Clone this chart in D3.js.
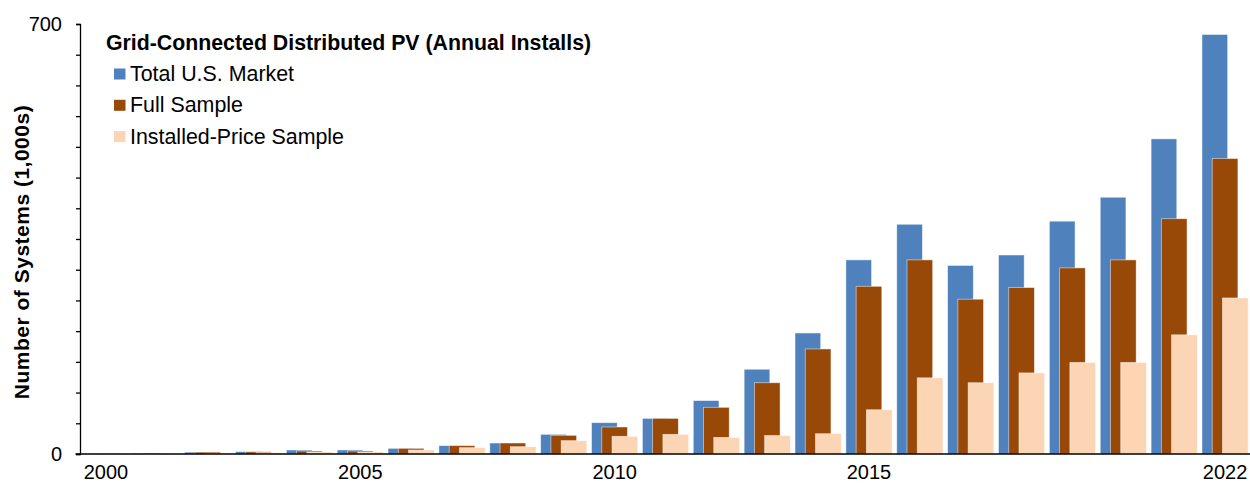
<!DOCTYPE html>
<html>
<head>
<meta charset="utf-8">
<script src="https://cdn.jsdelivr.net/npm/d3@7"></script>
<style>
  body { margin: 0; background: #fff; }
  text { font-family: "Liberation Sans", Arial, sans-serif; fill: #000; }
</style>
</head>
<body>
<svg id="chart" width="1250" height="489"></svg>
<script>
// data, thousands of systems installed per year
const years = d3.range(2000, 2023);
const totalMarket = [0.2, 0.5, 3, 3.8, 6.5, 6.6, 9.2, 13.6, 17.9, 32, 51, 58, 87, 138, 197, 316, 374, 307, 324, 379, 418, 513, 683];
const fullSample = [0.1, 0.4, 3, 3.5, 4.9, 4.9, 9.2, 13.6, 17.9, 30.4, 44, 58, 76, 116, 171, 273, 316, 252, 271, 303, 316, 383, 481];
const pricedSample = [0, 0.1, 0.5, 2.1, 3.3, 3.3, 6.5, 10.3, 11.9, 21.7, 28.8, 32, 27, 30, 33, 72, 124, 116, 132, 149, 149, 194, 254];
const xTickYears = [2000, 2005, 2010, 2015, 2022];
const seriesNames = ["Total U.S. Market", "Full Sample", "Installed-Price Sample"];
const seriesColors = ["#4f81bd", "#984807", "#fcd5b5"];

const svg = d3.select("#chart");
const plotLeft = 80.5, plotRight = 1250.5, plotTop = 24, plotBottom = 454;

let x = d3.scaleBand().domain(years).range([plotLeft, plotRight]);
let y = d3.scaleLinear().domain([0, 700]).range([plotBottom, plotTop]);

// overlapping bars inside each year's band
let bw = x.bandwidth();
let barW = bw * 0.505;
let offset = d3.scaleLinear().domain([0, 2]).range([bw * 0.046, bw * 0.046 + bw * 0.403]);

let series = [totalMarket, fullSample, pricedSample];
series.forEach((vals, s) => {
  svg.append("g")
    .selectAll("rect")
    .data(vals)
    .join("rect")
    .attr("x", (d, i) => x(years[i]) + offset(s))
    .attr("y", d => y(d))
    .attr("width", barW)
    .attr("height", d => plotBottom - y(d))
    .attr("fill", seriesColors[s])
    .attr("stroke", "#fff")
    .attr("stroke-opacity", 0.6)
    .attr("stroke-width", 0.8);
});

// y axis
let yAxis = d3.axisLeft(y)
  .tickValues(d3.range(0, 701, 50))
  .tickSize(4)
  .tickPadding(14)
  .tickFormat(d => (d === 0 || d === 700 ? d : ""));
let gy = svg.append("g").attr("transform", `translate(${plotLeft - 0.5},0)`).call(yAxis);
gy.select(".domain").attr("stroke", "#000").attr("stroke-width", 1.3);
gy.selectAll(".tick line").attr("stroke", "#000").attr("stroke-width", 1.3);
gy.selectAll("text").style("font-size", "20px");

// x axis
let xAxis = d3.axisBottom(x).tickValues(xTickYears).tickSize(0).tickPadding(11);
let gx = svg.append("g").attr("transform", `translate(0,${plotBottom})`).call(xAxis);
gx.select(".domain").remove();
gx.selectAll("text").style("font-size", "20px");
svg.append("line")
  .attr("x1", plotLeft - 5).attr("x2", 1250)
  .attr("y1", plotBottom).attr("y2", plotBottom)
  .attr("stroke", "#000").attr("stroke-width", 1.6);

// y title
svg.append("text")
  .attr("transform", "translate(29,252) rotate(-90)")
  .attr("text-anchor", "middle")
  .style("font-size", "21px")
  .style("font-weight", "bold")
  .style("letter-spacing", "0.5px")
  .text("Number of Systems (1,000s)");

// legend
let legend = svg.append("g");
legend.append("text")
  .attr("x", 106).attr("y", 50)
  .style("font-size", "21.3px")
  .style("font-weight", "bold")
  .text("Grid-Connected Distributed PV (Annual Installs)");
seriesNames.forEach((name, i) => {
  let cy = 74 + i * 31.3;
  legend.append("rect")
    .attr("x", 114).attr("y", cy - 5.5)
    .attr("width", 11.5).attr("height", 11)
    .attr("fill", seriesColors[i]);
  legend.append("text")
    .attr("x", 130).attr("y", cy + 7)
    .style("font-size", "21.4px")
    .text(name);
});
</script>
</body>
</html>
